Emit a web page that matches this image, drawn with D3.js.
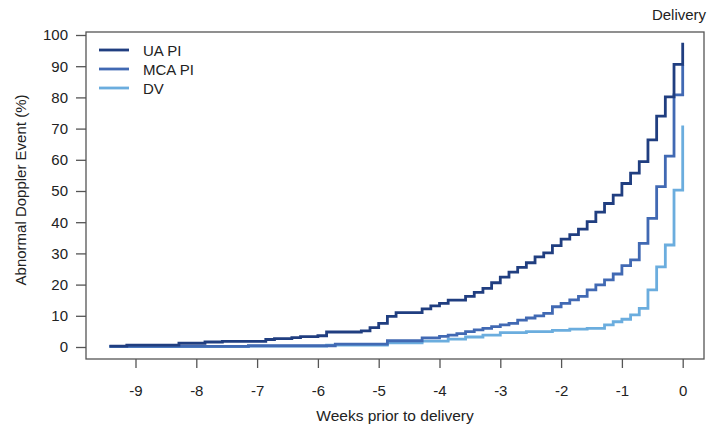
<!DOCTYPE html>
<html>
<head>
<meta charset="utf-8">
<script src="https://cdn.jsdelivr.net/npm/d3@7"></script>
<style>
  html, body { margin: 0; padding: 0; background: #ffffff; }
  svg { display: block; font-family: "Liberation Sans", Arial, Helvetica, sans-serif; }
</style>
</head>
<body>
<svg id="chart" width="707" height="430"></svg>
<script>
// Days prior to delivery at which each cumulative value starts (step-after)
const uaDays   = [-66,-64,-58,-55,-53,-48,-47,-45,-44,-42,-41,-37,-36,-35,-34,-33,-30,-29,-28,-27,-25,-24,-23,-22,-21,-20,-19,-18,-17,-16,-15,-14,-13,-12,-11,-10,-9,-8,-7,-6,-5,-4,-3,-2,-1,0];
const uaValues = [0.3,0.6,1.2,1.6,1.8,2.4,2.7,3.0,3.3,3.6,4.8,5.2,6.2,7.6,9.8,11.0,12.2,13.2,14.0,15.0,16.2,17.5,18.8,20.6,22.4,24.0,25.5,27.0,28.9,30.2,32.5,34.6,36.0,37.8,40.2,43.2,46.0,48.7,52.4,55.7,59.4,66.4,74.0,80.2,90.6,97.5];

const mcaDays   = [-66,-50,-40,-34,-30,-28,-27,-26,-25,-24,-23,-22,-21,-20,-19,-18,-17,-16,-15,-14,-13,-12,-11,-10,-9,-8,-7,-6,-5,-4,-3,-2,-1,0];
const mcaValues = [0.2,0.4,0.9,2.0,2.9,3.4,3.8,4.3,4.9,5.5,6.0,6.5,7.1,7.6,8.6,9.3,10.0,10.8,12.9,14.0,15.1,16.2,18.3,19.9,21.5,23.4,26.1,27.9,33.2,41.2,51.4,61.2,80.8,90.5];

const dvDays   = [-66,-50,-41,-34,-30,-27,-25,-23,-21,-18,-15,-13,-11,-9,-8,-7,-6,-5,-4,-3,-2,-1,0];
const dvValues = [0.1,0.3,0.6,1.3,1.9,2.5,3.2,3.8,4.6,4.9,5.3,5.7,6.0,7.1,8.1,8.9,10.3,12.4,18.3,25.7,32.7,50.3,71.0];

const seriesNames = ["UA PI", "MCA PI", "DV"];
const seriesColors = ["#203e80", "#4169b3", "#6badde"];
const xTicks = [-9,-8,-7,-6,-5,-4,-3,-2,-1,0];
const yTicks = [0,10,20,30,40,50,60,70,80,90,100];

const series = [
  { name: seriesNames[0], color: seriesColors[0], pts: uaDays.map((d,i) => [d/7, uaValues[i]]) },
  { name: seriesNames[1], color: seriesColors[1], pts: mcaDays.map((d,i) => [d/7, mcaValues[i]]) },
  { name: seriesNames[2], color: seriesColors[2], pts: dvDays.map((d,i) => [d/7, dvValues[i]]) }
];

const svg = d3.select("#chart");
const x = d3.scaleLinear().domain([-9, 0]).range([135.5, 682.7]);
const y = d3.scaleLinear().domain([0, 100]).range([347, 35]);

const box = { left: 86, right: 704, top: 32, bottom: 359 };
const axisColor = "#555";
const fs = 15;
const fmt = d => String(d);

// plot box
svg.append("rect")
  .attr("x", box.left).attr("y", box.top)
  .attr("width", box.right - box.left).attr("height", box.bottom - box.top)
  .attr("fill", "none").attr("stroke", axisColor).attr("stroke-width", 1.3);

// x axis
const xAxis = svg.append("g").attr("transform", `translate(0,${box.bottom})`)
  .call(d3.axisBottom(x).tickValues(xTicks).tickSize(9).tickPadding(17).tickFormat(fmt));
xAxis.select(".domain").remove();
xAxis.selectAll("line").attr("stroke", axisColor).attr("stroke-width", 1.3);
xAxis.selectAll("text").attr("font-size", fs).attr("fill", "#222")
  .attr("font-family", '"Liberation Sans", Arial, sans-serif');

// y axis
const yAxis = svg.append("g").attr("transform", `translate(${box.left},0)`)
  .call(d3.axisLeft(y).tickValues(yTicks).tickSize(10).tickPadding(8).tickFormat(fmt));
yAxis.select(".domain").remove();
yAxis.selectAll("line").attr("stroke", axisColor).attr("stroke-width", 1.3);
yAxis.selectAll("text").attr("font-size", fs).attr("fill", "#222")
  .attr("font-family", '"Liberation Sans", Arial, sans-serif');

// lines
const line = d3.line().x(d => x(d[0])).y(d => y(d[1])).curve(d3.curveStepAfter);
svg.append("g").selectAll("path").data(series.slice().reverse()).join("path")
  .attr("d", d => line(d.pts))
  .attr("fill", "none")
  .attr("stroke", d => d.color)
  .attr("stroke-width", 2.8)
  .attr("stroke-linejoin", "miter")
  .attr("stroke-linecap", "butt");

// legend
const leg = svg.append("g");
series.forEach((s, i) => {
  const ly = 50 + i * 19;
  leg.append("line").attr("x1", 99).attr("x2", 129).attr("y1", ly).attr("y2", ly)
    .attr("stroke", s.color).attr("stroke-width", 2.8);
  leg.append("text").attr("x", 143).attr("y", ly + 5.5).attr("font-size", fs).attr("fill", "#222")
    .text(s.name);
});

// titles
svg.append("text").attr("x", 395).attr("y", 421).attr("text-anchor", "middle")
  .attr("font-size", fs + 0.5).attr("fill", "#222").text("Weeks prior to delivery");
svg.append("text").attr("transform", "translate(26,190) rotate(-90)").attr("text-anchor", "middle")
  .attr("font-size", fs).attr("fill", "#222").text("Abnormal Doppler Event (%)");
svg.append("text").attr("x", 679).attr("y", 20).attr("text-anchor", "middle")
  .attr("font-size", fs).attr("fill", "#222").text("Delivery");
</script>
</body>
</html>
